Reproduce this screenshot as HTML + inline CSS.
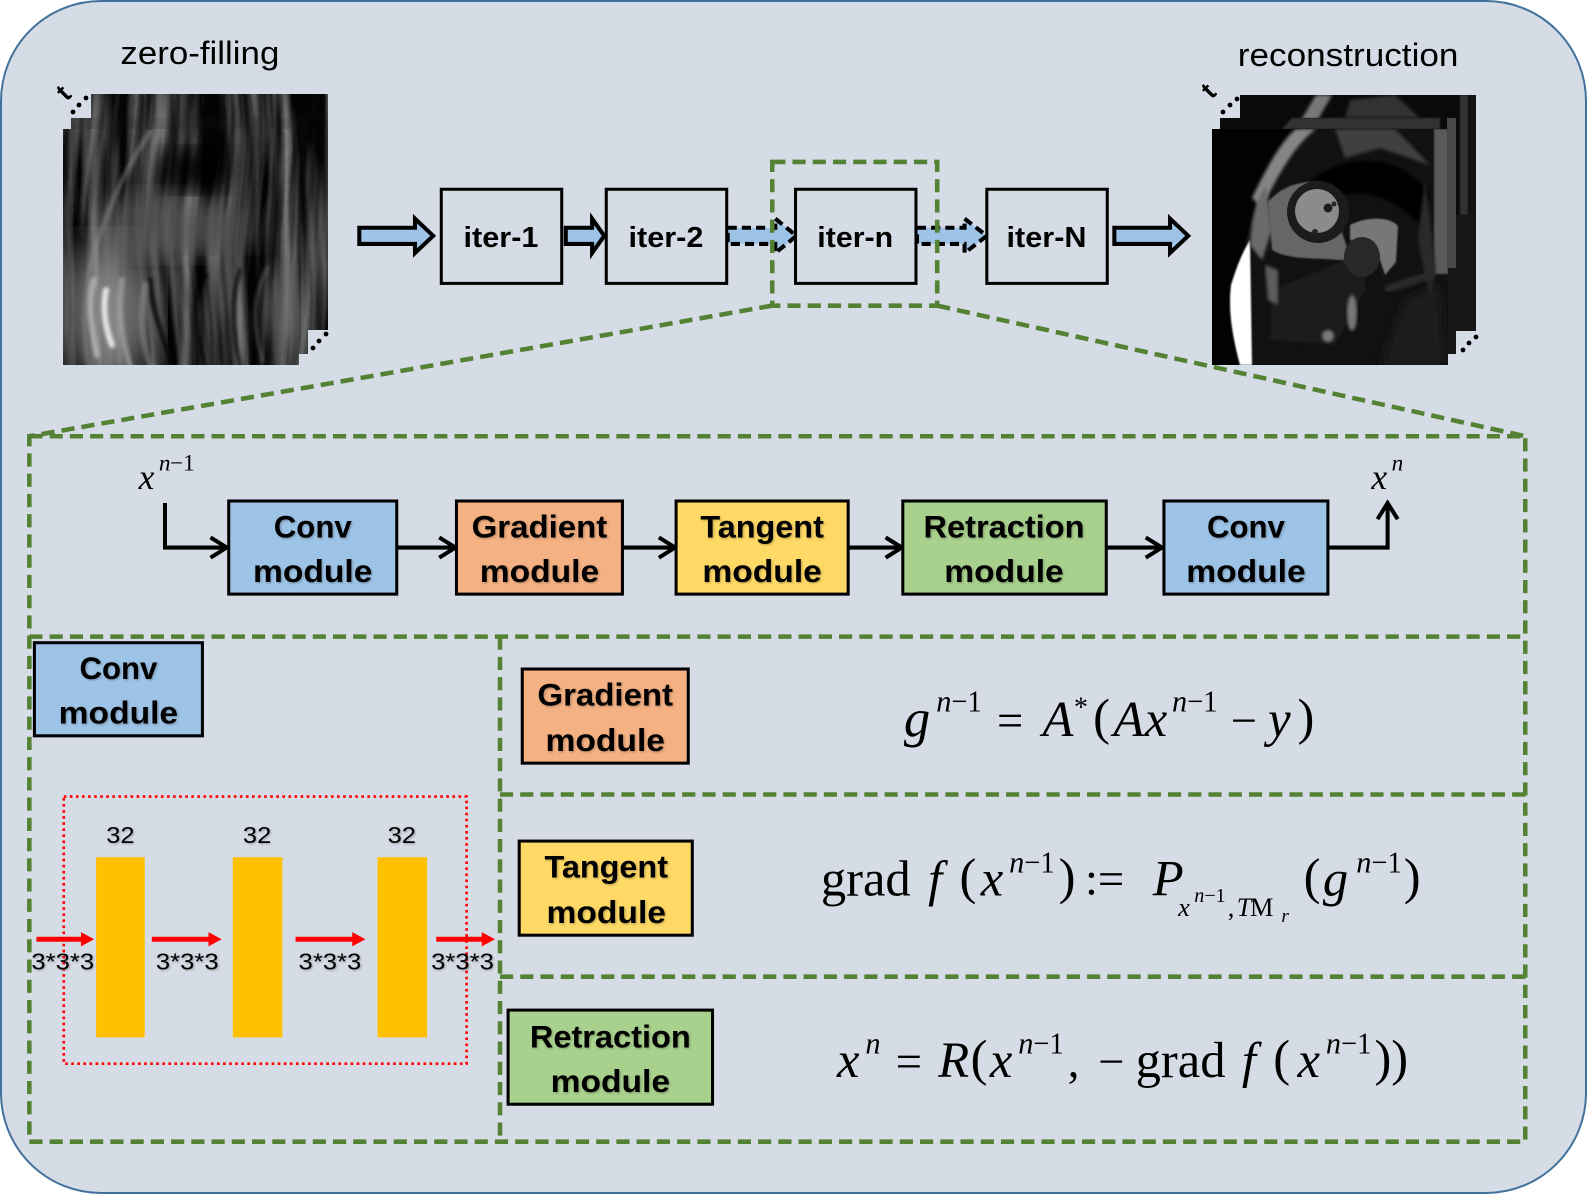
<!DOCTYPE html>
<html><head><meta charset="utf-8"><style>
html,body{margin:0;padding:0;background:#fff}
svg{display:block}
.s{font-family:"Liberation Sans",sans-serif}
.b{font-family:"Liberation Sans",sans-serif;font-weight:bold;font-size:31px;text-anchor:middle;fill:#000;filter:drop-shadow(1px 1px 1px rgba(0,0,0,.28))}
.i{font-family:"Liberation Serif",serif;font-style:italic;fill:#000}
.r{font-family:"Liberation Serif",serif;fill:#000}
.box{stroke:#000;stroke-width:3}
.g{fill:none;stroke:#548235;stroke-width:4.5;stroke-dasharray:13 7}
.ar{fill:none;stroke:#000;stroke-width:4}
.bar{fill:#ffc000}
.n{font-family:"Liberation Sans",sans-serif;font-size:23px;fill:#000;text-anchor:middle;filter:drop-shadow(1px 1px 1px rgba(0,0,0,.3))}
</style></head><body>
<svg width="1587" height="1194" viewBox="0 0 1587 1194" xmlns="http://www.w3.org/2000/svg">
<defs>
<filter id="streak" x="0" y="0" width="100%" height="100%" color-interpolation-filters="sRGB">
<feTurbulence type="fractalNoise" baseFrequency="0.075 0.005" numOctaves="3" seed="11" result="a"/>
<feTurbulence type="fractalNoise" baseFrequency="0.006 0.006" numOctaves="1" seed="3" result="b"/>
<feDisplacementMap in="a" in2="b" scale="28" xChannelSelector="R" yChannelSelector="G" result="c"/>
<feGaussianBlur in="c" stdDeviation="0.8" result="d"/>
<feColorMatrix in="d" type="matrix" values="1.15 0 0 0 -0.38 1.15 0 0 0 -0.38 1.15 0 0 0 -0.38 0 0 0 0 1"/>
</filter>
<filter id="bl12"><feGaussianBlur stdDeviation="12"/></filter>
<filter id="bl20"><feGaussianBlur stdDeviation="20"/></filter>
<filter id="bl5"><feGaussianBlur stdDeviation="5"/></filter>
<filter id="bl2"><feGaussianBlur stdDeviation="1.5"/></filter>
<filter id="bl1"><feGaussianBlur stdDeviation="0.8"/></filter>
<clipPath id="cf"><rect x="63" y="129" width="236" height="236"/></clipPath>
<clipPath id="cfm"><rect x="71" y="118" width="237" height="236"/></clipPath>
<clipPath id="cfb"><rect x="91" y="94" width="237" height="236"/></clipPath>
<clipPath id="cm"><rect x="1212" y="129" width="236" height="236"/></clipPath>
<clipPath id="cmb"><rect x="1240" y="95" width="236" height="236"/></clipPath>
</defs>
<rect width="1587" height="1194" fill="#fff"/>
<rect x="1" y="1" width="1585" height="1192" rx="100" fill="#d6dce5" stroke="#41719c" stroke-width="2"/>

<!-- zero filling stack -->
<g clip-path="url(#cfb)">
<rect x="91" y="94" width="237" height="236" fill="#161616"/>
<rect x="71" y="74" width="277" height="276" filter="url(#streak)" opacity=".8"/>
</g>
<g clip-path="url(#cfm)">
<rect x="71" y="118" width="237" height="236" fill="#1a1a1a"/>
<rect x="51" y="98" width="277" height="276" filter="url(#streak)" opacity=".7"/>
</g>
<g clip-path="url(#cf)">
<rect x="63" y="129" width="236" height="236" fill="#1a1a1a"/>
<rect x="43" y="109" width="276" height="276" filter="url(#streak)" opacity=".85"/>
<ellipse cx="165" cy="225" rx="70" ry="34" fill="#6c6c6c" opacity=".6" filter="url(#bl12)"/>
<ellipse cx="220" cy="232" rx="45" ry="20" fill="#4c4c4c" opacity=".55" filter="url(#bl12)"/>
<ellipse cx="195" cy="170" rx="38" ry="22" fill="#000" opacity=".9" filter="url(#bl12)"/>
<ellipse cx="110" cy="310" rx="48" ry="70" fill="#8c8c8c" opacity=".8" filter="url(#bl20)"/>
<ellipse cx="285" cy="305" rx="22" ry="40" fill="#666" opacity=".6" filter="url(#bl12)"/>
<g fill="none" stroke-linecap="round" filter="url(#bl2)">
<path d="M88 365C82 320 85 270 100 235C112 200 125 170 150 132" stroke="#8a8a8a" stroke-width="5" opacity=".5"/>
<path d="M112 345C104 325 103 305 106 290" stroke="#eee" stroke-width="6" opacity=".9"/>
<path d="M97 355C90 320 88 300 94 280" stroke="#bbb" stroke-width="6" opacity=".75"/>
<path d="M130 365C120 335 118 310 122 280" stroke="#aaa" stroke-width="6" opacity=".6"/>
<path d="M150 365C140 335 140 310 145 285" stroke="#999" stroke-width="6" opacity=".45"/>
<path d="M172 365C160 330 150 300 150 280" stroke="#050505" stroke-width="5" opacity=".75"/>
<path d="M205 365C195 330 190 300 205 275" stroke="#050505" stroke-width="5" opacity=".65"/>
<path d="M240 365C232 330 230 300 240 270" stroke="#000" stroke-width="4" opacity=".7"/>
<path d="M262 360C255 330 250 300 268 268" stroke="#6a6a6a" stroke-width="4" opacity=".5"/>
</g>
</g>

<!-- MRI stack -->
<rect x="1240" y="95" width="236" height="236" fill="#0a0a0a"/>
<g clip-path="url(#cmb)">
<path d="M1298 125L1316 95H1332L1312 130Z" fill="#777" filter="url(#bl2)"/>
<path d="M1350 100L1395 95L1420 118H1345Z" fill="#333" filter="url(#bl2)"/>
<rect x="1460" y="95" width="8" height="120" fill="#333" filter="url(#bl1)"/>
<rect x="1468" y="95" width="8" height="236" fill="#141414"/>
<rect x="1456" y="215" width="20" height="116" fill="#161616"/>
</g>
<rect x="1220" y="118" width="236" height="236" fill="#0a0a0a"/>
<path d="M1282 129L1292 118H1440L1440 129Z" fill="#333" filter="url(#bl1)"/>
<rect x="1447" y="118" width="9" height="150" fill="#484848"/>
<rect x="1448" y="268" width="8" height="86" fill="#161616"/>
<g clip-path="url(#cm)">
<rect x="1212" y="129" width="236" height="236" fill="#020202"/>
<!-- body -->
<path d="M1240 365C1230 320 1235 260 1262 190C1275 160 1290 135 1300 129H1448V365Z" fill="#111"/>
<path d="M1252 198C1268 165 1282 140 1296 129H1316C1298 142 1280 170 1262 208Z" fill="#858585" filter="url(#bl2)"/>
<path d="M1335 129H1395L1430 165L1380 148L1345 158Z" fill="#404040" filter="url(#bl2)"/>
<path d="M1300 190C1340 150 1400 150 1430 195L1420 225C1390 190 1340 180 1300 215Z" fill="#040404" filter="url(#bl2)"/>
<rect x="1434" y="129" width="14" height="145" fill="#5a5a5a" filter="url(#bl1)"/>
<path d="M1425 180L1436 270L1430 300L1418 240Z" fill="#2c2c2c" filter="url(#bl2)"/>
<!-- bright fat strip -->
<path d="M1231 285C1238 262 1244 250 1250 240L1252 365H1240C1232 335 1228 310 1231 285Z" fill="#fff" filter="url(#bl1)"/>
<path d="M1250 245C1252 215 1256 200 1266 185L1272 230L1262 260Z" fill="#6a6a6a" filter="url(#bl2)"/>
<!-- heart -->
<path d="M1268 202C1282 186 1300 180 1325 182L1352 262C1322 256 1292 262 1272 250Z" fill="#666" filter="url(#bl1)"/>
<circle cx="1318" cy="212" r="31" fill="#1c1c1c"/>
<circle cx="1317" cy="211" r="22" fill="#8b8b8b"/>
<circle cx="1328" cy="208" r="4.5" fill="#1c1c1c"/><circle cx="1334" cy="204" r="2.5" fill="#222"/><circle cx="1315" cy="232" r="3" fill="#222"/>
<path d="M1272 290L1345 260L1365 240V290L1335 345L1270 340Z" fill="#1a1a1a" filter="url(#bl2)"/>
<path d="M1350 225C1370 215 1392 218 1398 226L1396 262L1385 275L1374 242L1350 240Z" fill="#777" filter="url(#bl1)"/>
<ellipse cx="1362" cy="257" rx="18" ry="20" fill="#282828"/>
<path d="M1265 265L1278 270L1278 305L1268 300Z" fill="#5c5c5c" filter="url(#bl2)"/>
<ellipse cx="1352" cy="313" rx="5" ry="18" fill="#777" filter="url(#bl2)"/>
<circle cx="1328" cy="336" r="6" fill="#7a7a7a" filter="url(#bl2)"/>
<path d="M1405 300L1440 285L1445 365H1380Z" fill="#1a1a1a" filter="url(#bl5)"/>
<path d="M1385 290L1430 275" stroke="#2c2c2c" stroke-width="8" filter="url(#bl2)"/>
</g>

<!-- dots and t -->
<g fill="#000">
<circle cx="73" cy="112" r="2.4"/><circle cx="79" cy="105" r="2.4"/><circle cx="86" cy="98" r="2.4"/>
<circle cx="313" cy="348" r="2.4"/><circle cx="319" cy="341" r="2.4"/><circle cx="326" cy="334" r="2.4"/>
<circle cx="1223" cy="112" r="2.4"/><circle cx="1230" cy="105" r="2.4"/><circle cx="1237" cy="99" r="2.4"/>
<circle cx="1463" cy="350" r="2.4"/><circle cx="1469" cy="343" r="2.4"/><circle cx="1476" cy="337" r="2.4"/>
<text class="s" font-size="26" font-weight="bold" transform="translate(63,90) rotate(-45) translate(0,8)" x="-6" y="3">t</text>
<text class="s" font-size="26" font-weight="bold" transform="translate(1208,88) rotate(-45) translate(0,8)" x="-6" y="3">t</text>
</g>

<g transform="scale(1.01212)">
<text class="s" x="119" y="63" font-size="32" textLength="157" lengthAdjust="spacingAndGlyphs">zero-filling</text>
<text class="s" x="1223" y="65" font-size="32" textLength="218" lengthAdjust="spacingAndGlyphs">reconstruction</text>

<!-- block arrows -->
<g stroke="#000" stroke-width="4" fill="#9dc3e6">
<path d="M355 225H410V216L428 233L410 250V241H355Z"/>
<path d="M559 225H585V216L597 233L585 250V241H559Z"/>
<path d="M1101 225H1156V216L1174 233L1156 250V241H1101Z"/>
<g stroke-dasharray="9 5">
<path d="M719 225H766V216L787 233L766 250V241H719Z"/>
<path d="M906 225H953V216L975 233L953 250V241H906Z"/>
</g>
</g>

<!-- iter boxes -->
<g fill="#d6dce5" stroke="#000" stroke-width="3">
<rect x="436" y="187" width="119" height="93"/>
<rect x="599" y="187" width="119" height="93"/>
<rect x="786" y="187" width="119" height="93"/>
<rect x="975" y="187" width="119" height="93"/>
</g>
<g class="s" font-weight="bold" font-size="28" text-anchor="middle">
<text x="495" y="244" textLength="74" lengthAdjust="spacingAndGlyphs">iter-1</text>
<text x="658" y="244" textLength="74" lengthAdjust="spacingAndGlyphs">iter-2</text>
<text x="845" y="244" textLength="75" lengthAdjust="spacingAndGlyphs">iter-n</text>
<text x="1034" y="244" textLength="79" lengthAdjust="spacingAndGlyphs">iter-N</text>
</g>

<!-- green dashed -->
<rect class="g" x="763" y="160" width="163" height="142"/>
<path class="g" d="M763 302L29 431"/>
<path class="g" d="M926 302L1507 431"/>
<rect class="g" x="29" y="431" width="1478" height="697"/>
<path class="g" d="M29 629H1507"/>
<path class="g" d="M494 629V1128"/>
<path class="g" d="M494 785H1507"/>
<path class="g" d="M494 965H1507"/>

<!-- connectors -->
<path class="ar" d="M163 497V541H222"/><path class="ar" d="M208 531L224 541L208 551"/>
<path class="ar" d="M392 541H448"/><path class="ar" d="M434 531L450 541L434 551"/>
<path class="ar" d="M615 541H665"/><path class="ar" d="M651 531L667 541L651 551"/>
<path class="ar" d="M838 541H889"/><path class="ar" d="M875 531L891 541L875 551"/>
<path class="ar" d="M1093 541H1146"/><path class="ar" d="M1132 531L1148 541L1132 551"/>
<path class="ar" d="M1312 541H1371V498"/><path class="ar" d="M1361 513L1371 497L1381 513"/>

<!-- modules -->
<rect class="box" x="226" y="495" width="166" height="92" fill="#9dc3e6"/>
<rect class="box" x="451" y="495" width="164" height="92" fill="#f4b183"/>
<rect class="box" x="668" y="495" width="170" height="92" fill="#ffd966"/>
<rect class="box" x="892" y="495" width="201" height="92" fill="#a9d18e"/>
<rect class="box" x="1150" y="495" width="162" height="92" fill="#9dc3e6"/>
<rect class="box" x="34" y="635" width="166" height="92" fill="#9dc3e6"/>
<rect class="box" x="516" y="661" width="164" height="93" fill="#f4b183"/>
<rect class="box" x="513" y="831" width="171" height="93" fill="#ffd966"/>
<rect class="box" x="502" y="998" width="202" height="93" fill="#a9d18e"/>

<text class="b" x="309" y="531" textLength="77" lengthAdjust="spacingAndGlyphs">Conv</text>
<text class="b" x="309" y="575" textLength="118" lengthAdjust="spacingAndGlyphs">module</text>
<text class="b" x="533" y="531" textLength="134" lengthAdjust="spacingAndGlyphs">Gradient</text>
<text class="b" x="533" y="575" textLength="118" lengthAdjust="spacingAndGlyphs">module</text>
<text class="b" x="753" y="531" textLength="122" lengthAdjust="spacingAndGlyphs">Tangent</text>
<text class="b" x="753" y="575" textLength="118" lengthAdjust="spacingAndGlyphs">module</text>
<text class="b" x="992" y="531" textLength="159" lengthAdjust="spacingAndGlyphs">Retraction</text>
<text class="b" x="992" y="575" textLength="118" lengthAdjust="spacingAndGlyphs">module</text>
<text class="b" x="1231" y="531" textLength="77" lengthAdjust="spacingAndGlyphs">Conv</text>
<text class="b" x="1231" y="575" textLength="118" lengthAdjust="spacingAndGlyphs">module</text>
<text class="b" x="117" y="671" textLength="77" lengthAdjust="spacingAndGlyphs">Conv</text>
<text class="b" x="117" y="715" textLength="118" lengthAdjust="spacingAndGlyphs">module</text>
<text class="b" x="598" y="697" textLength="134" lengthAdjust="spacingAndGlyphs">Gradient</text>
<text class="b" x="598" y="742" textLength="118" lengthAdjust="spacingAndGlyphs">module</text>
<text class="b" x="599" y="867" textLength="122" lengthAdjust="spacingAndGlyphs">Tangent</text>
<text class="b" x="599" y="912" textLength="118" lengthAdjust="spacingAndGlyphs">module</text>
<text class="b" x="603" y="1035" textLength="159" lengthAdjust="spacingAndGlyphs">Retraction</text>
<text class="b" x="603" y="1079" textLength="118" lengthAdjust="spacingAndGlyphs">module</text>

<!-- x labels -->
<text class="i" x="137" y="483" font-size="35">x</text>
<text class="i" x="157" y="465" font-size="23">n</text><text class="r" x="168" y="465" font-size="23">−1</text>
<text class="i" x="1355" y="483" font-size="35">x</text>
<text class="i" x="1375" y="465" font-size="23">n</text>

<!-- conv detail -->
<rect x="63" y="787" width="398" height="264" fill="none" stroke="#ff0000" stroke-width="2.6" stroke-dasharray="2.6 3.4"/>
<rect class="bar" x="95" y="847" width="48" height="178"/>
<rect class="bar" x="230" y="847" width="49" height="178"/>
<rect class="bar" x="373" y="847" width="49" height="178"/>
<g fill="#ff0000">
<path d="M36 925.500H80V921L93 928L80 935V930.500H36Z"/>
<path d="M150 925.500H206V921L219 928L206 935V930.500H150Z"/>
<path d="M292 925.500H348V921L361 928L348 935V930.500H292Z"/>
<path d="M431 925.500H476V921L489 928L476 935V930.500H431Z"/>
</g>
<text class="n" x="119" y="833" textLength="28" lengthAdjust="spacingAndGlyphs">32</text>
<text class="n" x="254" y="833" textLength="28" lengthAdjust="spacingAndGlyphs">32</text>
<text class="n" x="397" y="833" textLength="28" lengthAdjust="spacingAndGlyphs">32</text>
<text class="n" x="62" y="958" textLength="62" lengthAdjust="spacingAndGlyphs">3*3*3</text>
<text class="n" x="185" y="958" textLength="62" lengthAdjust="spacingAndGlyphs">3*3*3</text>
<text class="n" x="326" y="958" textLength="62" lengthAdjust="spacingAndGlyphs">3*3*3</text>
<text class="n" x="457" y="958" textLength="62" lengthAdjust="spacingAndGlyphs">3*3*3</text>

<!-- eq 1 -->
<text class="i" x="893" y="727" font-size="52">g</text>
<text class="i" x="925" y="703" font-size="30">n</text><text class="r" x="940" y="703" font-size="30" textLength="30" lengthAdjust="spacingAndGlyphs">−1</text>
<text class="r" x="985" y="727" font-size="46">=</text>
<text class="i" x="1030" y="727" font-size="50">A</text>
<text class="r" x="1061" y="708" font-size="28">*</text>
<text class="r" x="1080" y="725" font-size="50">(</text>
<text class="i" x="1100" y="727" font-size="50">A</text>
<text class="i" x="1131" y="727" font-size="50">x</text>
<text class="i" x="1158" y="703" font-size="30">n</text><text class="r" x="1173" y="703" font-size="30" textLength="30" lengthAdjust="spacingAndGlyphs">−1</text>
<text class="r" x="1216" y="727" font-size="46">−</text>
<text class="i" x="1253" y="727" font-size="50">y</text>
<text class="r" x="1282" y="725" font-size="50">)</text>

<!-- eq 2 -->
<text class="r" x="811" y="885" font-size="50">grad</text>
<text class="i" x="917" y="885" font-size="50">f</text>
<text class="r" x="948" y="883" font-size="50">(</text>
<text class="i" x="969" y="885" font-size="50">x</text>
<text class="i" x="997" y="862" font-size="30">n</text><text class="r" x="1012" y="862" font-size="30" textLength="30" lengthAdjust="spacingAndGlyphs">−1</text>
<text class="r" x="1046" y="883" font-size="50">)</text>
<text class="r" x="1072" y="884" font-size="46">:=</text>
<text class="i" x="1139" y="885" font-size="50">P</text>
<text class="i" x="1164" y="905" font-size="26">x</text>
<text class="i" x="1180" y="891" font-size="20">n</text><text class="r" x="1190" y="891" font-size="20" textLength="21" lengthAdjust="spacingAndGlyphs">−1</text>
<text class="r" x="1213" y="905" font-size="26">,</text>
<text class="i" x="1222" y="905" font-size="26">T</text><text class="r" x="1235" y="905" font-size="26">M</text>
<text class="i" x="1266" y="911" font-size="19">r</text>
<text class="r" x="1288" y="883" font-size="50">(</text>
<text class="i" x="1307" y="885" font-size="50">g</text>
<text class="i" x="1340" y="862" font-size="30">n</text><text class="r" x="1355" y="862" font-size="30" textLength="30" lengthAdjust="spacingAndGlyphs">−1</text>
<text class="r" x="1387" y="883" font-size="50">)</text>

<!-- eq 3 -->
<text class="i" x="827" y="1064" font-size="50">x</text>
<text class="i" x="855" y="1041" font-size="30">n</text>
<text class="r" x="885" y="1064" font-size="46">=</text>
<text class="i" x="927" y="1064" font-size="50">R</text>
<text class="r" x="959" y="1062" font-size="50">(</text>
<text class="i" x="978" y="1064" font-size="50">x</text>
<text class="i" x="1006" y="1041" font-size="30">n</text><text class="r" x="1021" y="1041" font-size="30" textLength="30" lengthAdjust="spacingAndGlyphs">−1</text>
<text class="r" x="1055" y="1064" font-size="46">,</text>
<text class="r" x="1085" y="1064" font-size="46">−</text>
<text class="r" x="1122" y="1064" font-size="50">grad</text>
<text class="i" x="1227" y="1064" font-size="50">f</text>
<text class="r" x="1258" y="1062" font-size="50">(</text>
<text class="i" x="1282" y="1064" font-size="50">x</text>
<text class="i" x="1310" y="1041" font-size="30">n</text><text class="r" x="1325" y="1041" font-size="30" textLength="30" lengthAdjust="spacingAndGlyphs">−1</text>
<text class="r" x="1358" y="1062" font-size="50">))</text>
</g>
</svg>
</body></html>
